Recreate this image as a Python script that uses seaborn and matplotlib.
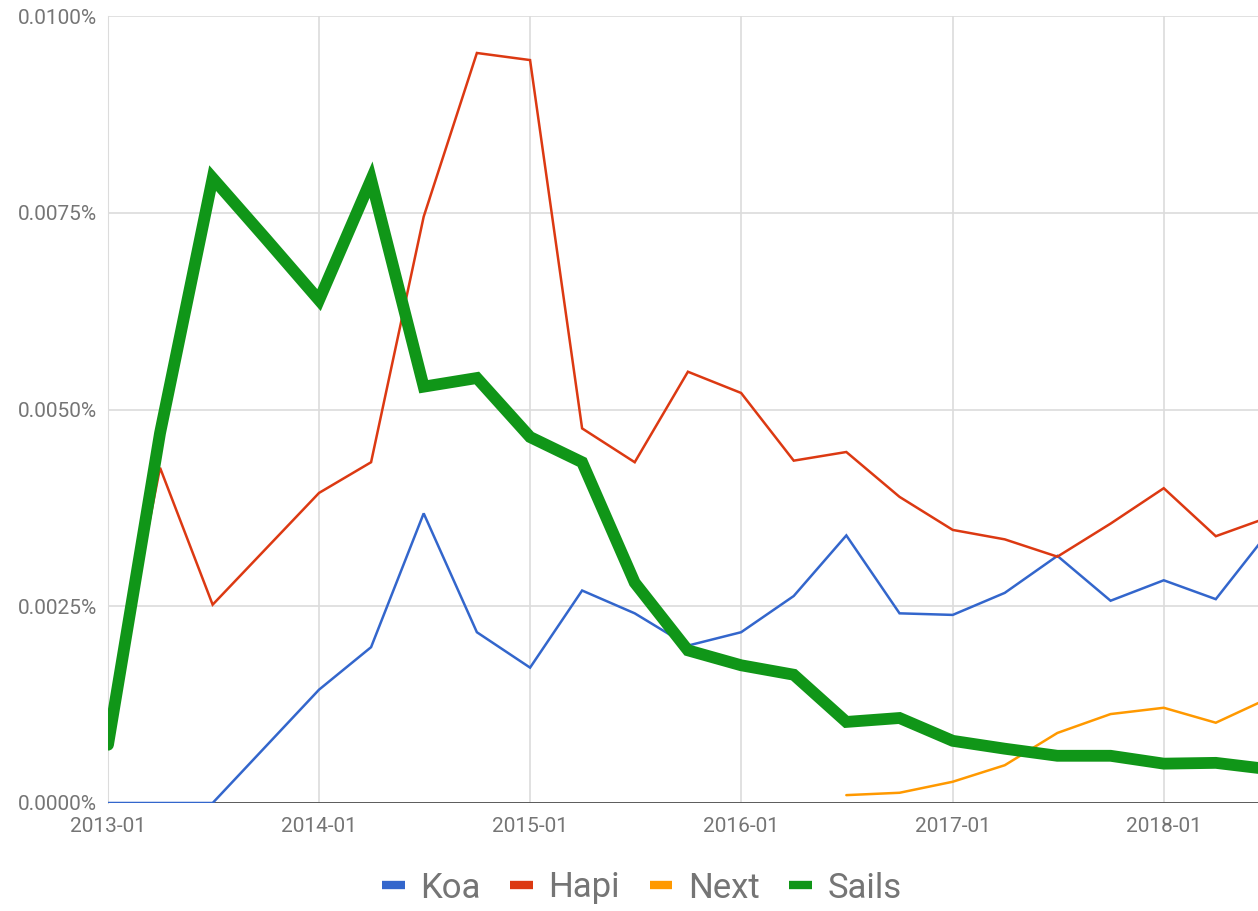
import pandas as pd
import seaborn as sns
import matplotlib.pyplot as plt
import matplotlib.dates as mdates
from matplotlib.ticker import FuncFormatter

quarters = ['2013-01', '2013-04', '2013-07', '2013-10', '2014-01', '2014-04', '2014-07', '2014-10',
            '2015-01', '2015-04', '2015-07', '2015-10', '2016-01', '2016-04', '2016-07', '2016-10',
            '2017-01', '2017-04', '2017-07', '2017-10', '2018-01', '2018-04', '2018-07']

# values in percent
koa = [0.0, 0.0, 0.0, 0.00072, 0.00144, 0.00198, 0.00368, 0.00217,
       0.00172, 0.00270, 0.00241, 0.00200, 0.00217, 0.00263, 0.00340, 0.00241,
       0.00239, 0.00267, 0.00314, 0.00257, 0.00283, 0.00259, 0.00344]
hapi = [0.00090, 0.00426, 0.00252, 0.00323, 0.00394, 0.00433, 0.00745, 0.00953,
        0.00944, 0.00476, 0.00433, 0.00548, 0.00521, 0.00435, 0.00446, 0.00389,
        0.00347, 0.00335, 0.00313, 0.00355, 0.00400, 0.00339, 0.00363]
next_js = [None] * 14 + [0.00010, 0.00013, 0.00027, 0.00048, 0.00089, 0.00113, 0.00121, 0.00102, 0.00133]
sails = [0.00074, 0.00470, 0.00794, 0.00717, 0.00639, 0.00792, 0.00529, 0.00540,
         0.00465, 0.00433, 0.00280, 0.00194, 0.00175, 0.00163, 0.00103, 0.00108,
         0.00079, 0.00069, 0.00060, 0.00060, 0.00050, 0.00051, 0.00043]

series = {'Koa': koa, 'Hapi': hapi, 'Next': next_js, 'Sails': sails}
colors = {'Koa': '#3366cc', 'Hapi': '#dc3912', 'Next': '#ff9900', 'Sails': '#109618'}
widths = {'Koa': 1.8, 'Hapi': 1.8, 'Next': 1.8, 'Sails': 8.5}

rows = []
for name, vals in series.items():
    for q, v in zip(quarters, vals):
        if v is not None:
            rows.append({'date': pd.to_datetime(q), 'value': v, 'framework': name})
df = pd.DataFrame(rows)

sns.set_style('white')
plt.rcParams['font.family'] = ['Roboto', 'DejaVu Sans']

fig = plt.figure(figsize=(12.58, 9.11), dpi=100)
ax = fig.add_axes([108 / 1258, 1 - 803 / 911, 1150 / 1258, 787 / 911])

sns.lineplot(data=df, x='date', y='value', hue='framework', palette=colors,
             hue_order=list(series.keys()), ax=ax, legend=False, zorder=3)
for line, name in zip(ax.get_lines(), series.keys()):
    line.set_linewidth(widths[name])
    line.set_solid_joinstyle('miter')

ax.set_ylim(0, 0.01)
ax.set_yticks([0, 0.0025, 0.005, 0.0075, 0.01])
ax.yaxis.set_major_formatter(FuncFormatter(lambda v, p: f'{v:.4f}%'))
ax.set_xlim(pd.Timestamp('2013-01-01'), pd.Timestamp('2018-06-13'))
ax.xaxis.set_major_locator(mdates.YearLocator())
ax.xaxis.set_major_formatter(mdates.DateFormatter('%Y-%m'))

ax.grid(True, color='#dcdcdc', linewidth=1.2, zorder=0)
ax.axhline(0, color='#444444', linewidth=1.2, zorder=2)
for s in ['top', 'right', 'bottom']:
    ax.spines[s].set_visible(False)
ax.spines['left'].set_color('#dcdcdc')
ax.tick_params(axis='both', length=0, colors='#757575', labelsize=15)
ax.tick_params(axis='x', pad=10)
ax.tick_params(axis='y', pad=8)
ax.set_xlabel('')
ax.set_ylabel('')

handles = [plt.Line2D([], [], color=colors[n], linewidth=6, solid_capstyle='butt') for n in series]
fig.legend(handles, list(series.keys()), loc='center', bbox_to_anchor=(642 / 1258, 1 - 888 / 911),
           ncol=4, frameon=False, fontsize=25, labelcolor='#757575',
           handlelength=0.65, handletextpad=0.45, columnspacing=0.85)

fig.savefig('out.png', dpi=100)
